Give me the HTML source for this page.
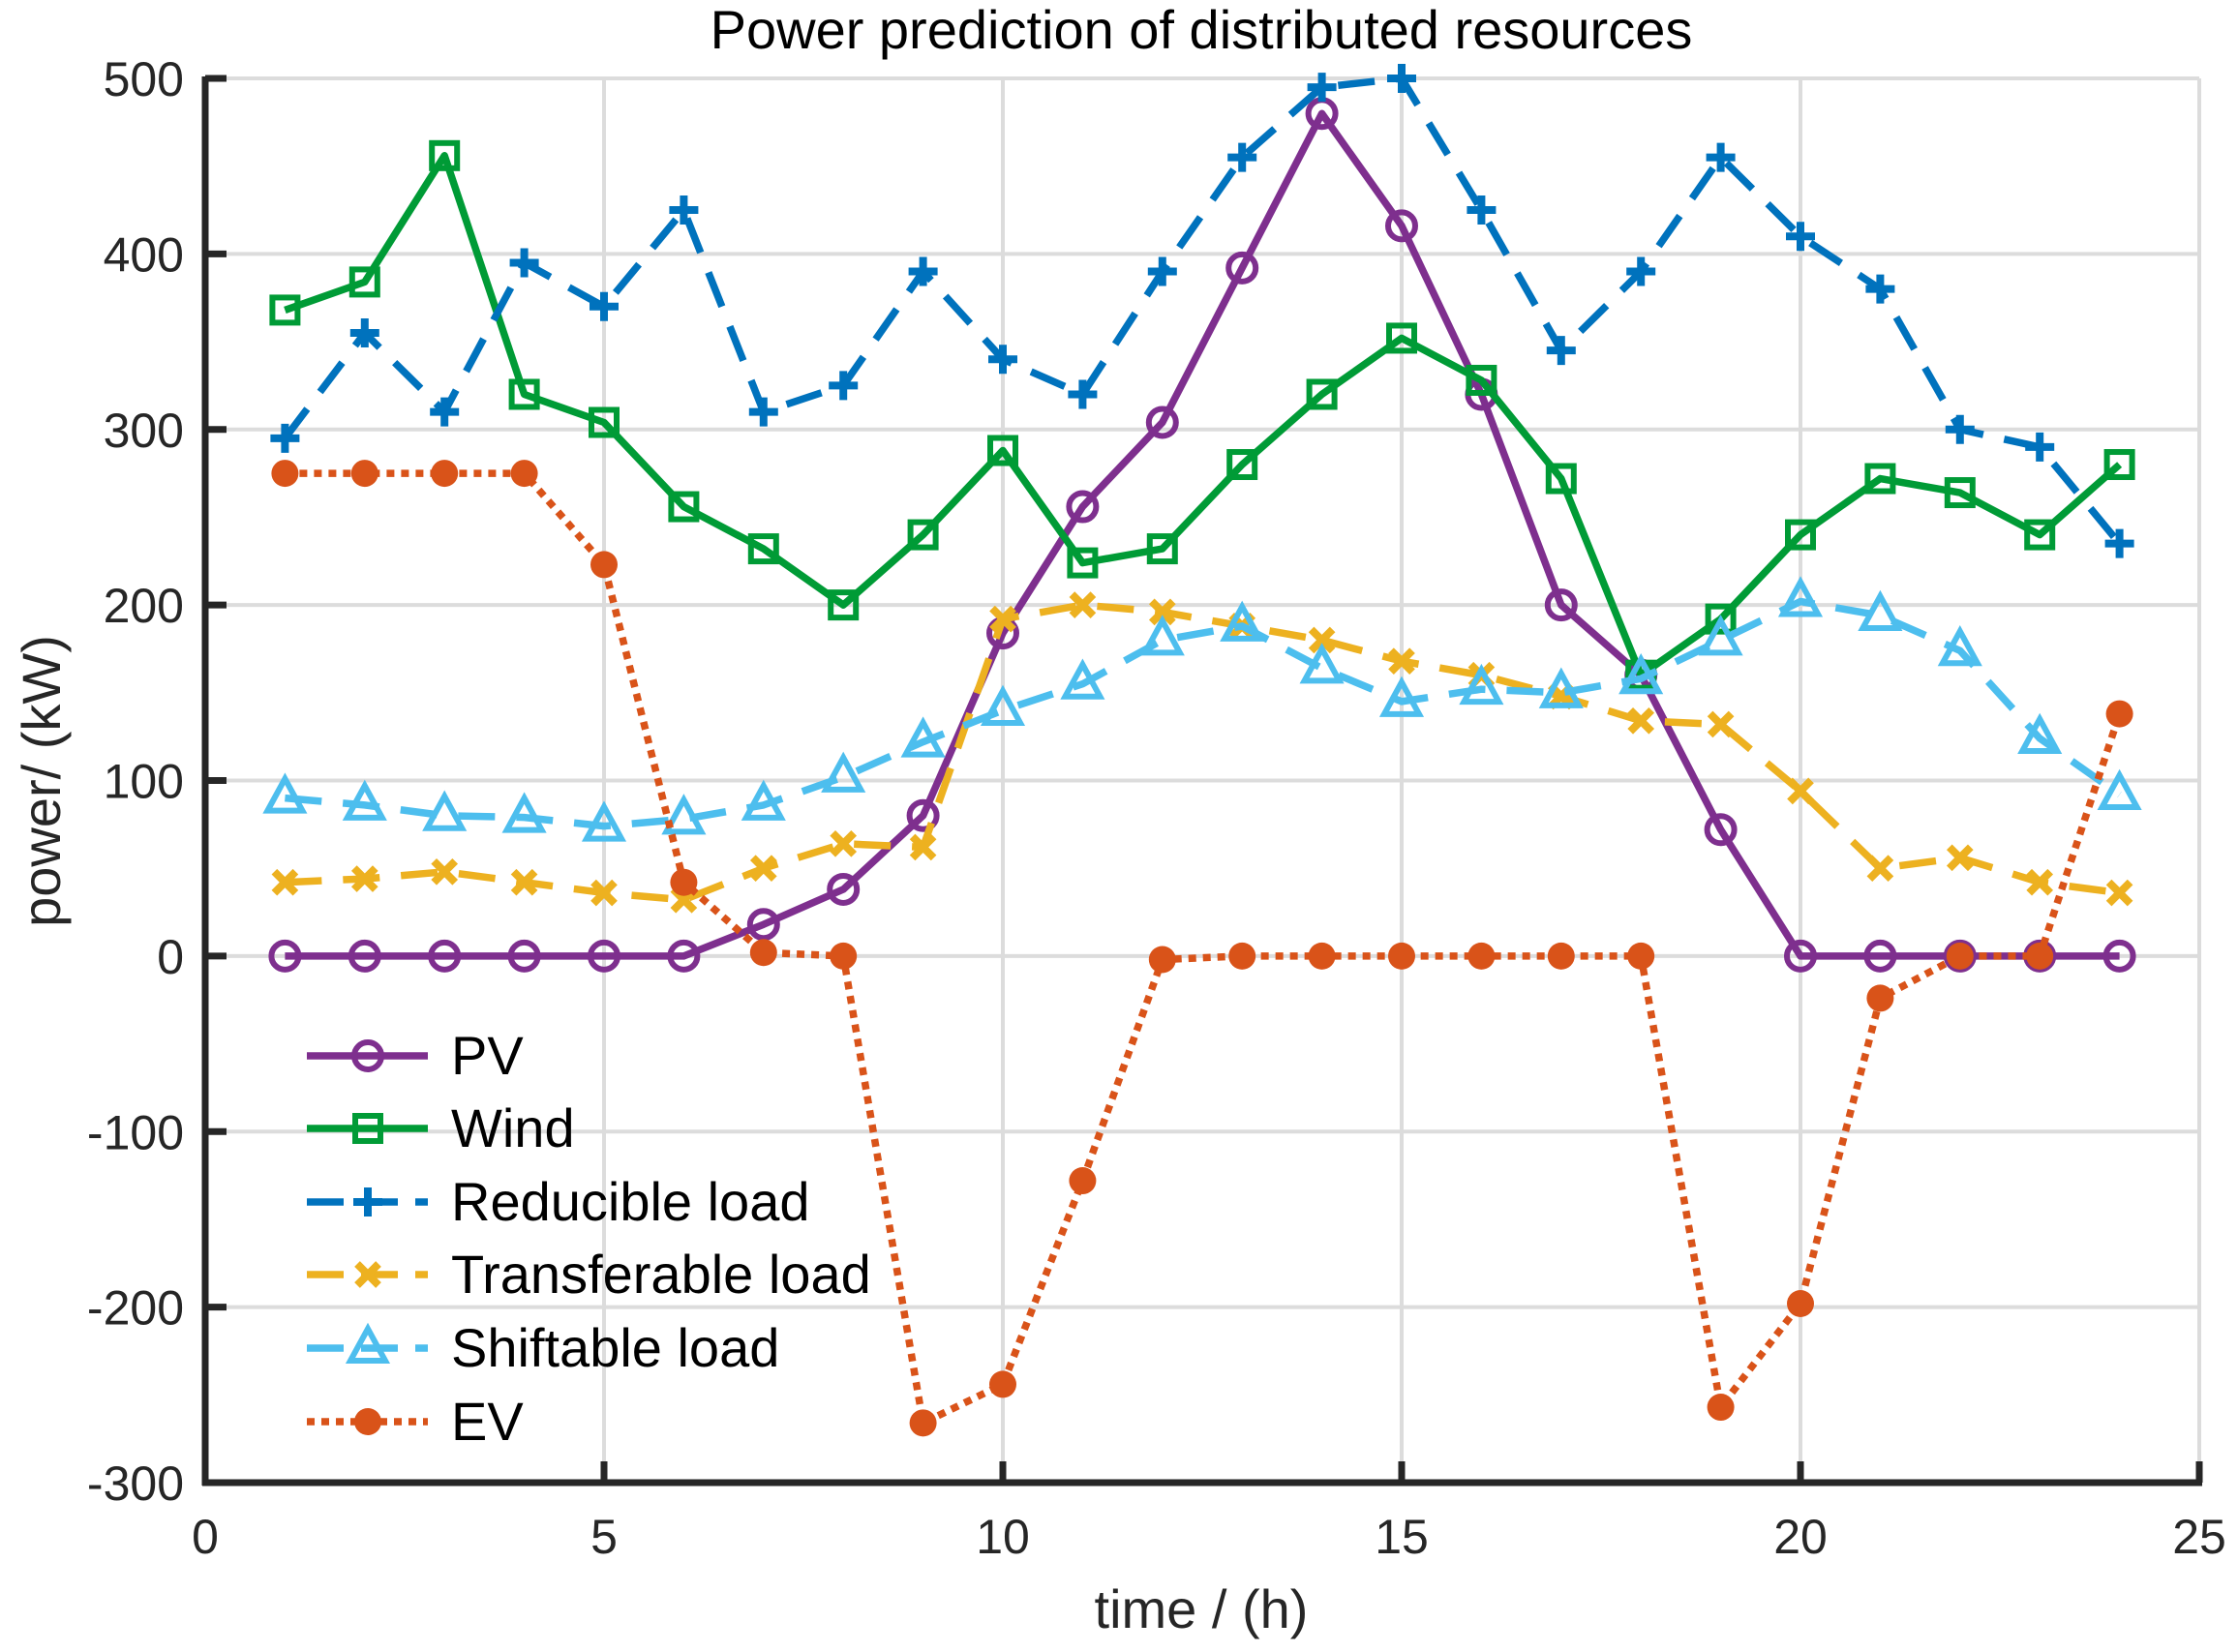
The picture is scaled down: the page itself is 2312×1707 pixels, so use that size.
<!DOCTYPE html>
<html><head><meta charset="utf-8"><style>
html,body{margin:0;padding:0;background:#fff;}
svg{display:block;font-family:"Liberation Sans",Arial,sans-serif;}
</style></head><body>
<svg id="chart" width="2312" height="1707" viewBox="0 0 2312 1707"></svg>
<script>
const hours=[1,2,3,4,5,6,7,8,9,10,11,12,13,14,15,16,17,18,19,20,21,22,23,24];
const pvValues=[0,0,0,0,0,0,18,38,80,184,256,304,392,480,416,320,200,160,72,0,0,0,0,0];
const windValues=[368,384,456,320,304,256,232,200,240,288,224,232,280,320,352,328,272,160,192,240,272,264,240,280];
const reducibleValues=[295,355,310,395,370,425,310,325,390,340,320,390,455,495,500,425,345,390,455,410,380,300,290,235];
const transferableValues=[42,44,48,42,36,32,50,64,62,192,200,196,188,180,168,160,148,134,132,94,50,56,42,36];
const shiftableValues=[90,86,80,79,74,78,86,102,122,140,155,180,188,164,145,152,150,158,180,202,194,174,124,92];
const evValues=[275,275,275,275,223,42,2,0,-266,-244,-128,-2,0,0,0,0,0,0,-257,-198,-24,0,0,138];
const xTicks=[0,5,10,15,20,25];
const yTicks=[-300,-200,-100,0,100,200,300,400,500];

const NS="http://www.w3.org/2000/svg";
const svg=document.getElementById('chart');
const L=212,R=2272,T=81,B=1532;
const xs=v=>L+(v-0)/(25-0)*(R-L);
const ys=v=>B-(v+300)/800*(B-T);
function mk(tag,attrs,parent){const e=document.createElementNS(NS,tag);for(const k in attrs)e.setAttribute(k,attrs[k]);(parent||svg).appendChild(e);return e;}

const grid=mk('g',{});


xTicks.forEach(t=>{if(t>0&&t<25)mk('line',{x1:xs(t),x2:xs(t),y1:T,y2:B,stroke:'#dcdcdc','stroke-width':4},grid);});
yTicks.forEach(t=>{if(t>-300)mk('line',{x1:L,x2:R,y1:ys(t),y2:ys(t),stroke:'#dcdcdc','stroke-width':4},grid);});
mk('line',{x1:R,x2:R,y1:T,y2:B,stroke:'#dcdcdc','stroke-width':4},grid);

const ax=mk('g',{});


mk('line',{x1:L,x2:L,y1:T-2,y2:B+3,stroke:'#262626','stroke-width':7},ax);
mk('line',{x1:L-3,x2:R+3,y1:B,y2:B,stroke:'#262626','stroke-width':7},ax);
xTicks.forEach(t=>{
  mk('line',{x1:xs(t),x2:xs(t),y1:B,y2:B-22,stroke:'#262626','stroke-width':7},ax);
  const tx=mk('text',{x:xs(t),y:1605,'text-anchor':'middle','font-size':50,fill:'#262626'},ax);
  tx.textContent=t;
  
  
});
yTicks.forEach(t=>{
  mk('line',{x1:L,x2:L+22,y1:ys(t),y2:ys(t),stroke:'#262626','stroke-width':7},ax);
  const tx=mk('text',{x:190,y:ys(t)+18,'text-anchor':'end','font-size':50,fill:'#262626'},ax);
  tx.textContent=t;
  
  
});

function marker(type,x,y,color,g){
  if(type==='o')mk('circle',{cx:x,cy:y,r:14,fill:'none',stroke:color,'stroke-width':6},g);
  else if(type==='s')mk('rect',{x:x-13,y:y-13,width:26,height:26,fill:'none',stroke:color,'stroke-width':6},g);
  else if(type==='+'){mk('path',{d:`M${x-15},${y}H${x+15}M${x},${y-15}V${y+15}`,stroke:color,'stroke-width':8},g);}
  else if(type==='x'){mk('path',{d:`M${x-11},${y-11}L${x+11},${y+11}M${x+11},${y-11}L${x-11},${y+11}`,stroke:color,'stroke-width':8},g);}
  else if(type==='^')mk('path',{d:`M${x},${y-20}L${x+18},${y+13}L${x-18},${y+13}Z`,fill:'none',stroke:color,'stroke-width':6},g);
  else if(type==='.')mk('circle',{cx:x,cy:y,r:14,fill:color},g);
}
const series=[
 {name:'PV',vals:pvValues,color:'#7E2F8E',dash:'',m:'o'},
 {name:'Wind',vals:windValues,color:'#009B36',dash:'',m:'s'},
 {name:'Reducible load',vals:reducibleValues,color:'#0072BD',dash:'38 22',m:'+'},
 {name:'Transferable load',vals:transferableValues,color:'#EDB120',dash:'38 22',m:'x'},
 {name:'Shiftable load',vals:shiftableValues,color:'#4DBEEE',dash:'38 22',m:'^'},
 {name:'EV',vals:evValues,color:'#D95319',dash:'8 7',m:'.'}
];
const dataNames=['series-pv','series-wind','series-reducible-load','series-transferable-load','series-shiftable-load','series-ev'];
series.forEach((s,i)=>{
  const g=mk('g',{});
  
  
  const pts=hours.map((h,j)=>xs(h)+','+ys(s.vals[j])).join(' ');
  const attrs={points:pts,fill:'none',stroke:s.color,'stroke-width':7.5,'stroke-linejoin':'round'};
  if(s.dash)attrs['stroke-dasharray']=s.dash;
  mk('polyline',attrs,g);
  hours.forEach((h,j)=>marker(s.m,xs(h),ys(s.vals[j]),s.color,g));
});

const lg=mk('g',{});


const rows=[1091,1166,1242,1317,1393,1469];
series.forEach((s,i)=>{
  const y=rows[i];
  const e=mk('g',{},lg);
  
  
  const a={x1:317,x2:442,y1:y,y2:y,stroke:s.color,'stroke-width':7.5};
  if(s.dash)a['stroke-dasharray']=s.m==='.'?'8 7':'38 18';
  mk('line',a,e);
  marker(s.m,380,y,s.color,e);
  const t=mk('text',{x:466,y:y+19,'font-size':56,fill:'#000'},e);
  t.textContent=s.name;
});

const title=mk('text',{x:1241,y:50,'text-anchor':'middle','font-size':56,fill:'#000'});
title.textContent='Power prediction of distributed resources';


const xl=mk('text',{x:1241,y:1682,'text-anchor':'middle','font-size':56,fill:'#262626'});
xl.textContent='time / (h)';


const yl=mk('text',{x:0,y:0,'text-anchor':'middle','font-size':56,fill:'#262626',transform:'translate(62,807) rotate(-90)'});
yl.textContent='power/ (kW)';


</script>
</body></html>
